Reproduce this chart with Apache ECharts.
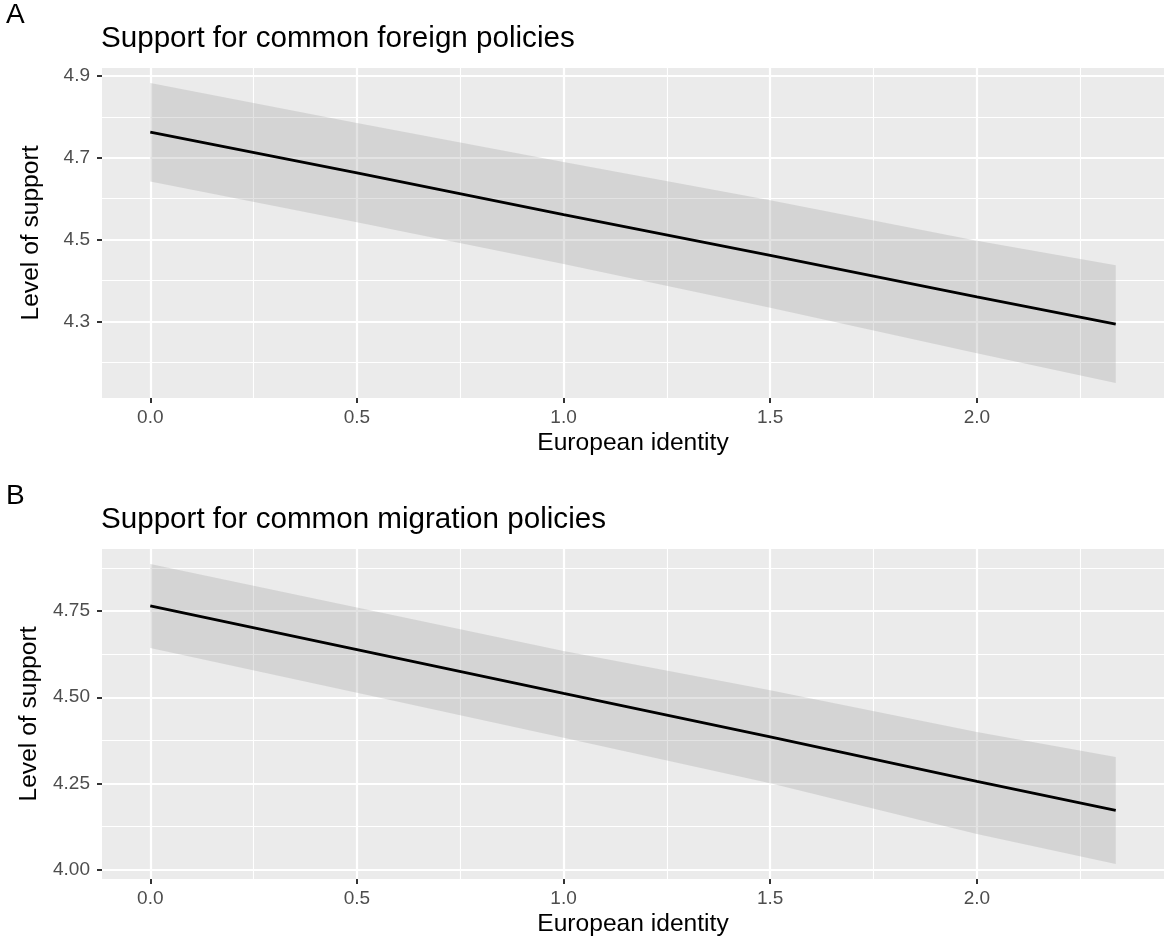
<!DOCTYPE html>
<html>
<head>
<meta charset="utf-8">
<script src="https://cdn.jsdelivr.net/npm/echarts@6/dist/echarts.min.js"></script>
<style>
html,body{margin:0;padding:0;background:#fff;}
#chart{width:1165px;height:938px;}
</style>
</head>
<body>
<div id="chart"></div>
<script>
// ---- data ----
const xVals = [0, 0.5, 1.0, 1.5, 2.0, 2.336];

const foreignFit   = [4.763, 4.663, 4.561, 4.461, 4.360, 4.293];
const foreignUpper = [4.883, 4.785, 4.690, 4.596, 4.497, 4.437];
const foreignLower = [4.642, 4.542, 4.440, 4.333, 4.222, 4.149];

const migrationFit   = [4.765, 4.638, 4.511, 4.385, 4.256, 4.172];
const migrationUpper = [4.886, 4.760, 4.634, 4.520, 4.399, 4.327];
const migrationLower = [4.643, 4.513, 4.383, 4.251, 4.104, 4.017];

const xMajorTicks = [0, 0.5, 1.0, 1.5, 2.0];
const xTickLabels = ['0.0', '0.5', '1.0', '1.5', '2.0'];
const xMinorTicks = [0.25, 0.75, 1.25, 1.75, 2.25];

const foreignYTicks  = [4.3, 4.5, 4.7, 4.9];
const foreignYLabels = ['4.3', '4.5', '4.7', '4.9'];
const foreignYMinor  = [4.2, 4.4, 4.6, 4.8];

const migrationYTicks  = [4.0, 4.25, 4.5, 4.75];
const migrationYLabels = ['4.00', '4.25', '4.50', '4.75'];
const migrationYMinor  = [4.125, 4.375, 4.625, 4.875];

const panelTitles = ['Support for common foreign policies', 'Support for common migration policies'];
const panelTags = ['A', 'B'];
const xTitle = 'European identity';
const yTitle = 'Level of support';

// ---- helpers ----
const FONT = '"Liberation Sans", Arial, Helvetica, sans-serif';
function expand(lo, hi) { const d = hi - lo; return [lo - 0.05 * d, hi + 0.05 * d]; }
function labelFor(ticks, labels) {
  return function (v) {
    for (let i = 0; i < ticks.length; i++) if (Math.abs(ticks[i] - v) < 1e-9) return labels[i];
    return '';
  };
}
const xExt = expand(Math.min.apply(null, xVals), Math.max.apply(null, xVals));

const panels = [
  {fit: foreignFit, up: foreignUpper, lo: foreignLower, yt: foreignYTicks, yl: foreignYLabels, ym: foreignYMinor, top: 68},
  {fit: migrationFit, up: migrationUpper, lo: migrationLower, yt: migrationYTicks, yl: migrationYLabels, ym: migrationYMinor, top: 549}
];

const grids = [], xAxes = [], yAxes = [], series = [];
panels.forEach(function (p, k) {
  const yExt = expand(Math.min.apply(null, p.lo), Math.max.apply(null, p.up));
  grids.push({left: 102, right: 1, top: p.top, height: 330, show: true, backgroundColor: '#EBEBEB', borderWidth: 0});
  // major x
  xAxes.push({
    type: 'value', gridIndex: k, min: xExt[0], max: xExt[1], position: 'bottom',
    name: xTitle, nameLocation: 'middle', nameGap: 33,
    nameTextStyle: {fontFamily: FONT, fontSize: 24.6, color: '#000'},
    axisLine: {show: false, onZero: false},
    axisTick: {show: true, customValues: xMajorTicks, length: 5, lineStyle: {color: '#333', width: 2}},
    axisLabel: {customValues: xMajorTicks, formatter: labelFor(xMajorTicks, xTickLabels), margin: 10,
      fontFamily: FONT, fontSize: 19, color: '#4D4D4D'},
    splitLine: {show: true, lineStyle: {color: '#FFFFFF', width: 2.2}}
  });
  // minor x
  xAxes.push({
    type: 'value', gridIndex: k, min: xExt[0], max: xExt[1], position: 'top',
    axisLine: {show: false, onZero: false},
    axisTick: {show: false, customValues: xMinorTicks},
    axisLabel: {show: false, customValues: xMinorTicks},
    splitLine: {show: true, lineStyle: {color: '#FFFFFF', width: 1.1}}
  });
  // major y
  yAxes.push({
    type: 'value', gridIndex: k, min: yExt[0], max: yExt[1], position: 'left',
    name: yTitle, nameLocation: 'middle', nameGap: 58,
    nameTextStyle: {fontFamily: FONT, fontSize: 24.6, color: '#000'},
    axisLine: {show: false, onZero: false},
    axisTick: {show: true, customValues: p.yt, length: 5, lineStyle: {color: '#333', width: 2}},
    axisLabel: {customValues: p.yt, formatter: labelFor(p.yt, p.yl), margin: 12,
      fontFamily: FONT, fontSize: 19, color: '#4D4D4D'},
    splitLine: {show: true, lineStyle: {color: '#FFFFFF', width: 2.2}}
  });
  // minor y
  yAxes.push({
    type: 'value', gridIndex: k, min: yExt[0], max: yExt[1], position: 'right',
    axisLine: {show: false, onZero: false},
    axisTick: {show: false, customValues: p.ym},
    axisLabel: {show: false, customValues: p.ym},
    splitLine: {show: true, lineStyle: {color: '#FFFFFF', width: 1.1}}
  });
  const up = p.up, lo = p.lo;
  series.push({
    type: 'custom', xAxisIndex: 2 * k, yAxisIndex: 2 * k, z: 2, silent: true, clip: true,
    data: xVals.map(function (x, i) { return [x, lo[i], up[i]]; }),
    encode: {x: 0, y: [1, 2]},
    renderItem: function (params, api) {
      if (params.dataIndex !== 0) return null;
      const pts = [];
      for (let i = 0; i < xVals.length; i++) pts.push(api.coord([xVals[i], up[i]]));
      for (let i = xVals.length - 1; i >= 0; i--) pts.push(api.coord([xVals[i], lo[i]]));
      return {type: 'polygon', shape: {points: pts}, style: {fill: 'rgba(153,153,153,0.27)'}};
    }
  });
  series.push({
    type: 'line', xAxisIndex: 2 * k, yAxisIndex: 2 * k, z: 3, silent: true,
    data: xVals.map(function (x, i) { return [x, p.fit[i]]; }),
    showSymbol: false, symbol: 'none',
    lineStyle: {color: '#000000', width: 2.8}
  });
});

const titles = [
  {text: panelTags[0], left: 6, top: 1, textStyle: {fontFamily: FONT, fontSize: 28, fontWeight: 'normal', color: '#000'}},
  {text: panelTitles[0], left: 101, top: 24, textStyle: {fontFamily: FONT, fontSize: 29.6, fontWeight: 'normal', color: '#000'}},
  {text: panelTags[1], left: 6, top: 482, textStyle: {fontFamily: FONT, fontSize: 28, fontWeight: 'normal', color: '#000'}},
  {text: panelTitles[1], left: 101, top: 505, textStyle: {fontFamily: FONT, fontSize: 29.6, fontWeight: 'normal', color: '#000'}}
];
titles.forEach(function (t) { t.padding = 0; });

const chart = echarts.init(document.getElementById('chart'), null, {renderer: 'canvas'});
chart.setOption({
  animation: false,
  backgroundColor: '#FFFFFF',
  title: titles,
  grid: grids,
  xAxis: xAxes,
  yAxis: yAxes,
  series: series
});
</script>
</body>
</html>
